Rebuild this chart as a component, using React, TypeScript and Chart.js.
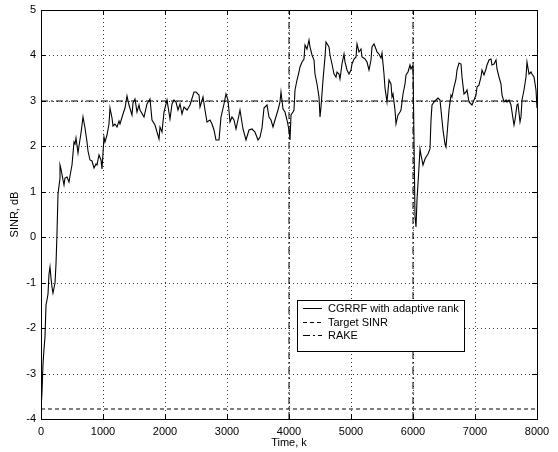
import React, { useEffect, useRef } from 'react';
import { Chart, registerables } from 'chart.js';

Chart.register(...registerables);

// ---- data ----
const timeK = [
  0, 15, 30, 50, 65, 80, 95, 115, 130, 145, 160, 185, 200, 225, 240, 260, 280, 300, 310, 330,
  350, 365, 390, 420, 445, 470, 500, 525, 545, 570, 590, 610, 640, 680, 710, 735, 760, 790, 820, 850,
  880, 900, 930, 960, 990, 1010, 1040, 1060, 1090, 1115, 1140, 1160, 1190, 1220, 1250, 1280, 1320, 1350, 1380, 1420,
  1460, 1490, 1520, 1550, 1580, 1600, 1665, 1708, 1751, 1788, 1842, 1896, 1923, 1950, 1988, 2031, 2074, 2112, 2139, 2182,
  2203, 2246, 2273, 2311, 2354, 2408, 2462, 2505, 2542, 2569, 2612, 2650, 2677, 2731, 2758, 2785, 2828, 2866, 2903, 2946,
  2989, 3011, 3054, 3081, 3119, 3151, 3189, 3216, 3259, 3312, 3350, 3404, 3458, 3496, 3539, 3566, 3603, 3646, 3673, 3710,
  3743, 3780, 3818, 3850, 3877, 3904, 3942, 3969, 3996, 4012, 4033, 4060, 4077, 4103, 4130, 4157, 4184, 4211, 4238, 4265,
  4292, 4319, 4346, 4373, 4400, 4427, 4453, 4480, 4507, 4523, 4550, 4577, 4604, 4642, 4669, 4696, 4723, 4750, 4777, 4803,
  4830, 4857, 4884, 4911, 4938, 4965, 4992, 5019, 5046, 5073, 5100, 5127, 5154, 5180, 5218, 5250, 5288, 5315, 5342, 5369,
  5396, 5423, 5450, 5477, 5500, 5530, 5555, 5580, 5610, 5639, 5665, 5682, 5703, 5730, 5757, 5784, 5811, 5838, 5865, 5892,
  5919, 5946, 5972, 5999, 6015, 6032, 6053, 6069, 6091, 6112, 6134, 6161, 6188, 6215, 6242, 6269, 6285, 6312, 6339, 6376,
  6403, 6436, 6462, 6489, 6516, 6532, 6554, 6581, 6608, 6635, 6662, 6689, 6715, 6742, 6769, 6796, 6823, 6850, 6877, 6904,
  6931, 6958, 6985, 7012, 7039, 7066, 7093, 7119, 7146, 7173, 7200, 7227, 7254, 7281, 7308, 7335, 7362, 7389, 7416, 7443,
  7470, 7496, 7523, 7550, 7577, 7604, 7631, 7647, 7674, 7696, 7722, 7739, 7766, 7793, 7820, 7846, 7873, 7900, 7927, 7954,
  7981, 8000,
];

const cgrrfSinrDb = [
  -3.8, -3.4, -2.8, -2.45, -2.2, -1.5, -1.38, -1.25, -0.8, -0.65, -0.9, -1.1, -1.22, -1.0, -0.6, 0.1, 0.95, 1.3, 1.58, 1.5,
  1.25, 1.15, 1.3, 1.32, 1.22, 1.35, 1.6, 2.1, 2.05, 2.18, 1.85, 2.0, 2.3, 2.65, 2.4, 2.1, 1.9, 1.7, 1.68, 1.52,
  1.62, 1.6, 1.82, 1.7, 1.5, 2.2, 2.1, 2.25, 2.5, 2.85, 2.62, 2.45, 2.5, 2.43, 2.55, 2.5, 2.72, 2.85, 3.1, 2.9,
  2.7, 2.95, 3.05, 2.75, 2.9, 2.79, 2.65, 2.94, 3.05, 2.57, 2.46, 2.17, 2.43, 2.32, 2.76, 3.03, 2.61, 2.94, 3.03, 2.98,
  2.79, 2.94, 2.72, 2.87, 2.79, 2.9, 3.2, 3.2, 3.12, 2.87, 3.09, 2.79, 2.54, 2.57, 2.5, 2.35, 2.13, 2.15, 2.65, 2.94,
  3.16, 3.01, 2.54, 2.65, 2.57, 2.39, 2.68, 2.79, 2.39, 2.13, 2.35, 2.39, 2.32, 2.13, 2.2, 2.4, 2.85, 2.9, 2.65, 2.57,
  2.43, 2.57, 2.79, 2.98, 3.2, 2.83, 2.76, 2.57, 2.35, 2.13, 2.68, 2.76, 2.79, 3.24, 3.46, 3.64, 3.75, 3.86, 3.93, 4.23,
  4.15, 4.34, 4.19, 4.0, 3.9, 3.6, 3.38, 3.09, 2.65, 2.87, 3.46, 3.97, 4.3, 4.19, 4.0, 3.82, 3.6, 3.53, 3.64, 3.6,
  3.49, 3.82, 4.04, 3.86, 3.68, 3.6, 3.68, 3.82, 3.93, 3.97, 4.26, 4.08, 4.15, 3.97, 3.93, 3.86, 3.68, 3.9, 4.19, 4.26,
  4.15, 4.08, 4.04, 3.95, 4.05, 3.6, 3.28, 2.98, 3.45, 3.38, 3.09, 3.16, 2.79, 2.5, 2.68, 2.76, 2.79, 3.16, 3.38, 3.57,
  3.64, 3.79, 3.71, 3.79, 2.13, 0.44, 0.22, 0.81, 1.54, 1.95, 1.8, 1.58, 1.73, 1.76, 1.84, 1.95, 2.57, 2.9, 2.98, 3.03,
  3.07, 3.01, 2.57, 2.35, 2.06, 1.99, 2.24, 2.79, 3.13, 3.09, 3.31, 3.49, 3.68, 3.84, 3.82, 3.53, 3.16, 3.2, 3.24, 2.98,
  2.94, 2.9, 3.01, 3.13, 3.31, 3.35, 3.53, 3.68, 3.57, 3.71, 3.79, 3.9, 3.93, 3.79, 3.82, 3.9, 3.71, 3.53, 3.38, 3.13,
  2.98, 3.01, 2.98, 3.01, 2.9, 2.76, 2.46, 2.57, 2.9, 2.94, 2.54, 2.65, 3.01, 3.24, 3.53, 3.86, 3.6, 3.64, 3.6, 3.53,
  3.24, 2.85,
];

const targetSinrDb = -3.78;
const rakeSinrDb = 3;
const markerTimesK = [4000, 6000];
const xRange = [0, 8000];
const yRange = [-4, 5];
const legendLabels = ['CGRRF with adaptive rank', 'Target SINR', 'RAKE'];

const FONT = '"Liberation Sans", Arial, Helvetica, sans-serif';
const DASH_DOT = [7, 3, 2, 3];
const DASHED = [4, 3];

const framePlugin = {
  id: 'frameAndLegend',
  afterDraw(chart: any) {
    const { ctx, chartArea } = chart;
    const { left, right, top, bottom } = chartArea;
    const xs = chart.scales.x;
    const ys = chart.scales.y;
    ctx.save();
    ctx.strokeStyle = '#000';
    ctx.lineWidth = 1;
    ctx.setLineDash([]);
    ctx.strokeRect(Math.round(left) + 0.5, Math.round(top) + 0.5, Math.round(right - left), Math.round(bottom - top));
    const tl = 5;
    ctx.beginPath();
    xs.ticks.forEach((t: any) => {
      const px = Math.round(xs.getPixelForValue(t.value)) + 0.5;
      ctx.moveTo(px, bottom);
      ctx.lineTo(px, bottom - tl);
      ctx.moveTo(px, top);
      ctx.lineTo(px, top + tl);
    });
    ys.ticks.forEach((t: any) => {
      const py = Math.round(ys.getPixelForValue(t.value)) + 0.5;
      ctx.moveTo(left, py);
      ctx.lineTo(left + tl, py);
      ctx.moveTo(right, py);
      ctx.lineTo(right - tl, py);
    });
    ctx.stroke();

    // legend
    const bx = 297.5, by = 300.5, bw = 167, bh = 51;
    ctx.fillStyle = '#fff';
    ctx.fillRect(bx, by, bw, bh);
    ctx.strokeRect(bx, by, bw, bh);
    const styles = [[], DASHED, DASH_DOT];
    const rows = [308.5, 322.5, 335.5];
    ctx.font = `11px ${FONT}`;
    ctx.textBaseline = 'middle';
    ctx.textAlign = 'left';
    legendLabels.forEach((lab, i) => {
      ctx.setLineDash(styles[i] as number[]);
      ctx.beginPath();
      ctx.moveTo(303, rows[i]);
      ctx.lineTo(322, rows[i]);
      ctx.stroke();
      ctx.fillStyle = '#000';
      ctx.fillText(lab, 328, rows[i]);
    });
    ctx.restore();
  },
};

export default function App() {
  const ref = useRef<HTMLCanvasElement | null>(null);
  useEffect(() => {
    if (!ref.current) return;
    const main = timeK.map((k, i) => ({ x: k, y: cgrrfSinrDb[i] }));
    const datasets: any[] = [
      {
        label: legendLabels[2],
        data: [{ x: xRange[0], y: rakeSinrDb }, { x: xRange[1], y: rakeSinrDb }],
        borderColor: '#000',
        borderWidth: 1,
        borderDash: DASH_DOT,
        pointRadius: 0,
      },
      ...markerTimesK.map((t) => ({
        label: 'marker',
        data: [{ x: t, y: yRange[0] }, { x: t, y: yRange[1] }],
        borderColor: '#000',
        borderWidth: 1,
        borderDash: DASH_DOT,
        pointRadius: 0,
      })),
      {
        label: legendLabels[1],
        data: [{ x: xRange[0], y: targetSinrDb }, { x: xRange[1], y: targetSinrDb }],
        borderColor: '#000',
        borderWidth: 1,
        borderDash: DASHED,
        pointRadius: 0,
      },
      {
        label: legendLabels[0],
        data: main,
        borderColor: '#000',
        borderWidth: 1.1,
        pointRadius: 0,
        tension: 0,
      },
    ];
    const zeroPad = (s: any) => {
      s.paddingLeft = 0;
      s.paddingRight = 0;
      s.paddingTop = 0;
      s.paddingBottom = 0;
    };
    const chart = new Chart(ref.current, {
      type: 'line',
      data: { datasets },
      options: {
        animation: false,
        responsive: false,
        events: [],
        layout: { padding: { top: 10, right: 21, left: 0, bottom: 0 } },
        plugins: { legend: { display: false }, tooltip: { enabled: false }, title: { display: false } },
        scales: {
          x: {
            type: 'linear',
            min: xRange[0],
            max: xRange[1],
            alignToPixels: true,
            afterFit: (s: any) => {
              s.height = 33;
              zeroPad(s);
            },
            ticks: {
              stepSize: 1000,
              color: '#000',
              font: { family: FONT, size: 11 },
              padding: 6,
              maxRotation: 0,
              autoSkip: false,
              callback: (v: any) => String(v),
            },
            grid: {
              color: '#333',
              lineWidth: 1,
              drawTicks: false,
            },
            border: { display: false, dash: [1, 3] },
            title: {
              display: true,
              text: 'Time, k',
              color: '#000',
              font: { family: FONT, size: 11 },
              padding: { top: 0, bottom: 2.4 },
            },
          },
          y: {
            type: 'linear',
            min: yRange[0],
            max: yRange[1],
            alignToPixels: true,
            afterFit: (s: any) => {
              s.width = 41;
              zeroPad(s);
            },
            ticks: {
              stepSize: 1,
              color: '#000',
              font: { family: FONT, size: 11 },
              padding: 5,
              autoSkip: false,
              callback: (v: any) => String(v),
            },
            grid: {
              color: '#333',
              lineWidth: 1,
              drawTicks: false,
            },
            border: { display: false, dash: [1, 3] },
            title: {
              display: true,
              text: 'SINR, dB',
              color: '#000',
              font: { family: FONT, size: 11 },
              padding: { top: 8.4, bottom: 0 },
            },
          },
        },
      } as any,
      plugins: [framePlugin],
    });
    return () => chart.destroy();
  }, []);
  return (
    <div style={{ position: 'fixed', left: 0, top: 0, width: 558, height: 452, background: '#fff' }}>
      <canvas ref={ref} width={558} height={452} style={{ display: 'block', width: 558, height: 452 }} />
    </div>
  );
}
